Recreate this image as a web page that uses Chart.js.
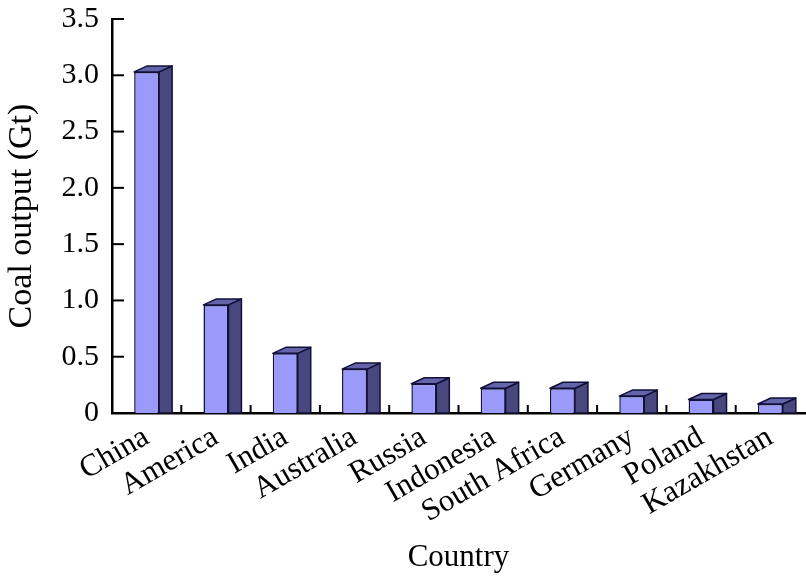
<!DOCTYPE html>
<html>
<head>
<meta charset="utf-8">
<script src="https://cdn.jsdelivr.net/npm/chart.js@4/dist/chart.umd.min.js"></script>
<style>
  html, body { margin: 0; padding: 0; background: #fff; }
  #wrap { width: 806px; height: 578px; position: relative; }
</style>
</head>
<body>
<div id="wrap"><canvas id="c" width="806" height="578"></canvas></div>
<script>
const countries = ["China", "America", "India", "Australia", "Russia", "Indonesia", "South Africa", "Germany", "Poland", "Kazakhstan"];
const coalOutput = [3.03, 0.96, 0.53, 0.39, 0.26, 0.22, 0.22, 0.15, 0.12, 0.08];
const yTicks = [0, 0.5, 1.0, 1.5, 2.0, 2.5, 3.0, 3.5];

const FRONT = "#9a9afa";
const SIDE = "#48487e";
const TOP = "#6464aa";
const EDGE = "#10103a";
const DX = 13, DY = -6;
const FONT = "Liberation Serif";

const bar3d = {
  id: "bar3d",
  afterDatasetsDraw(chart) {
    const ctx = chart.ctx;
    const meta = chart.getDatasetMeta(0);
    ctx.save();
    ctx.lineWidth = 1.5;
    ctx.strokeStyle = EDGE;
    ctx.lineJoin = "round";
    meta.data.forEach(el => {
      const p = el.getProps(["x", "y", "base", "width"], true);
      const l = p.x - p.width / 2, r = p.x + p.width / 2;
      ctx.beginPath();
      ctx.moveTo(r, p.y);
      ctx.lineTo(r + DX, p.y + DY);
      ctx.lineTo(r + DX, p.base);
      ctx.lineTo(r, p.base);
      ctx.closePath();
      ctx.fillStyle = SIDE; ctx.fill(); ctx.stroke();
      ctx.beginPath();
      ctx.moveTo(l, p.y);
      ctx.lineTo(l + DX, p.y + DY);
      ctx.lineTo(r + DX, p.y + DY);
      ctx.lineTo(r, p.y);
      ctx.closePath();
      ctx.fillStyle = TOP; ctx.fill(); ctx.stroke();
    });
    const xs = chart.scales.x, ys = chart.scales.y;
    ctx.strokeStyle = "#000";
    ctx.lineWidth = 2;
    yTicks.forEach(v => {
      const y = ys.getPixelForValue(v);
      ctx.beginPath();
      ctx.moveTo(chart.chartArea.left, y);
      ctx.lineTo(chart.chartArea.left + 12, y);
      ctx.stroke();
    });
    for (let i = 1; i < countries.length; i++) {
      const x = (xs.getPixelForValue(i - 1) + xs.getPixelForValue(i)) / 2;
      ctx.beginPath();
      ctx.moveTo(x, chart.chartArea.bottom);
      ctx.lineTo(x, chart.chartArea.bottom - 8);
      ctx.stroke();
    }
    ctx.restore();
  }
};

new Chart(document.getElementById("c"), {
  type: "bar",
  data: {
    labels: countries,
    datasets: [{
      data: coalOutput,
      backgroundColor: FRONT,
      borderColor: EDGE,
      borderWidth: 1.5,
      barPercentage: 0.36,
      categoryPercentage: 1.0
    }]
  },
  options: {
    responsive: false,
    animation: false,
    devicePixelRatio: 1,
    layout: { padding: { top: 19, right: 1, bottom: 0, left: 0 } },
    plugins: { legend: { display: false }, tooltip: { enabled: false } },
    scales: {
      x: {
        grid: { display: false, drawTicks: false },
        border: { display: true, color: "#000", width: 2.5 },
        afterFit(scale) { scale.height = 165; scale.paddingLeft = 0; scale.paddingRight = 0; },
        ticks: {
          color: "#000",
          font: { family: FONT, size: 31 },
          maxRotation: 30, minRotation: 30,
          padding: 6,
          autoSkip: false
        },
        title: { display: true, text: "Country", color: "#000", font: { family: FONT, size: 31 }, padding: { top: 4, bottom: 2 } }
      },
      y: {
        min: 0, max: 3.5,
        grid: { display: false, drawTicks: false },
        border: { display: true, color: "#000", width: 2.5 },
        afterFit(scale) { scale.width = 112; scale.paddingTop = 0; scale.paddingBottom = 0; },
        afterBuildTicks(scale) { scale.ticks = yTicks.map(v => ({ value: v })); },
        ticks: {
          color: "#000",
          font: { family: FONT, size: 30 },
          padding: 13,
          callback: v => (v === 0 ? "0" : Number(v).toFixed(1))
        },
        title: { display: true, text: "Coal output (Gt)", color: "#000", font: { family: FONT, size: 34 }, padding: { top: 2, bottom: 4 } }
      }
    }
  },
  plugins: [bar3d]
});
</script>
</body>
</html>
